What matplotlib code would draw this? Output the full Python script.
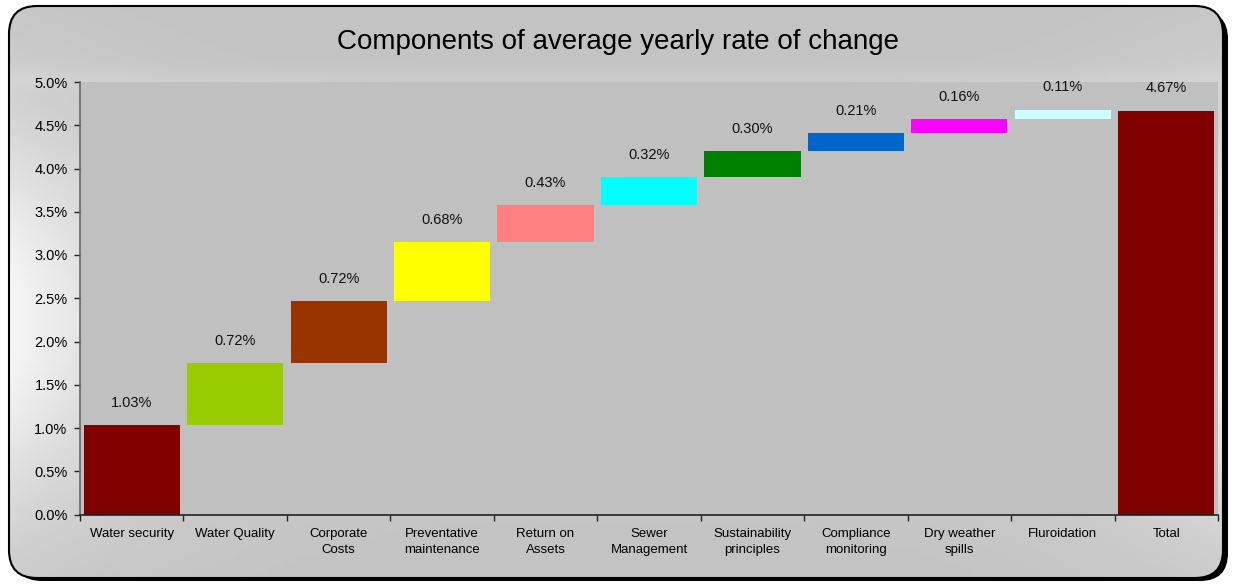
import numpy as np
import matplotlib.pyplot as plt
from matplotlib.patches import FancyBboxPatch
from matplotlib.ticker import FuncFormatter, FixedLocator

plt.rcParams['font.family'] = ['Liberation Sans', 'DejaVu Sans']

# Components of the yearly rate of change (percent)
categories = ['Water security', 'Water Quality', 'Corporate\nCosts', 'Preventative\nmaintenance',
              'Return on\nAssets', 'Sewer\nManagement', 'Sustainability\nprinciples',
              'Compliance\nmonitoring', 'Dry weather\nspills', 'Fluroidation', 'Total']
increments = [1.03, 0.72, 0.72, 0.68, 0.43, 0.32, 0.30, 0.21, 0.16, 0.11]
total = 4.67
colors = ['#800000', '#99CC00', '#993300', '#FFFF00', '#FF8080', '#00FFFF',
          '#008000', '#0066CC', '#FF00FF', '#CCFFFF', '#800000']

W, H = 1236, 586
fig = plt.figure(figsize=(W / 100, H / 100), dpi=100)
fig.patch.set_facecolor('white')

# background panel: rounded box with drop shadow and soft gradient
bg = fig.add_axes([0, 0, 1, 1])
bg.set_xlim(0, W)
bg.set_ylim(H, 0)
bg.axis('off')
shadow = FancyBboxPatch((14, 11), 1214, 570, boxstyle='round,pad=0,rounding_size=28',
                        facecolor='black', edgecolor='none')
bg.add_patch(shadow)
box = FancyBboxPatch((9, 6), 1214, 572, boxstyle='round,pad=0,rounding_size=28',
                     facecolor='none', edgecolor='black', linewidth=1.5, zorder=3)
bg.add_patch(box)
xx, yy = np.meshgrid(np.linspace(0, W, 300), np.linspace(0, H, 200))
edge = 0.12 + 0.88 * (np.abs(xx - W / 2) / (W / 2)) ** 4
shade = 0.76 + 0.22 * np.exp(-((yy - 320) / 200) ** 2) * edge
shade += 0.025 * np.exp(-((yy - 78) / 12) ** 2)
img = bg.imshow(shade, cmap='gray', vmin=0, vmax=1, extent=[0, W, H, 0],
                aspect='auto', zorder=2)
img.set_clip_path(FancyBboxPatch((9, 6), 1214, 572, boxstyle='round,pad=0,rounding_size=28',
                                 transform=bg.transData))

fig.text(0.5, 1 - 42 / H, 'Components of average yearly rate of change',
         ha='center', va='center', fontsize=20, color='black')

# waterfall chart
ax = fig.add_axes([80 / W, 1 - 514.5 / H, (1218 - 80) / W, (514.5 - 82) / H])
ax.set_facecolor('#C0C0C0')
x = np.arange(len(categories))
bottoms = np.concatenate([[0], np.cumsum(increments)[:-1]])
heights = list(increments) + [total]
bottoms = list(bottoms) + [0]
ax.bar(x, heights, bottom=bottoms, width=0.93, color=colors, edgecolor='none')
for xi, b, h in zip(x, bottoms, heights):
    ax.annotate(f'{h:.2f}%', (xi, b + h), xytext=(0, 11), textcoords='offset points',
                ha='center', va='bottom', fontsize=10.5, color='#111111')

ax.set_xlim(-0.5, len(categories) - 0.5)
ax.set_ylim(0, 5)
ax.set_yticks(np.arange(0, 5.01, 0.5))
ax.yaxis.set_major_formatter(FuncFormatter(lambda v, p: f'{v:.1f}%'))
ax.set_xticks(x)
ax.set_xticklabels(categories, fontsize=9.5, linespacing=1.45)
ax.xaxis.set_minor_locator(FixedLocator(np.arange(-0.5, len(categories), 1)))
ax.tick_params(axis='x', which='major', length=0, pad=10)
ax.tick_params(axis='x', which='minor', length=4, width=1, color='#222222')
ax.tick_params(axis='y', length=4, width=1, color='#222222', labelsize=10.5, pad=5)
for s in ['top', 'right']:
    ax.spines[s].set_visible(False)
ax.spines['left'].set_color('#666666')
ax.spines['left'].set_linewidth(1.2)
ax.spines['bottom'].set_color('#222222')
ax.spines['bottom'].set_linewidth(1.2)

fig.savefig('out.png', dpi=100)
